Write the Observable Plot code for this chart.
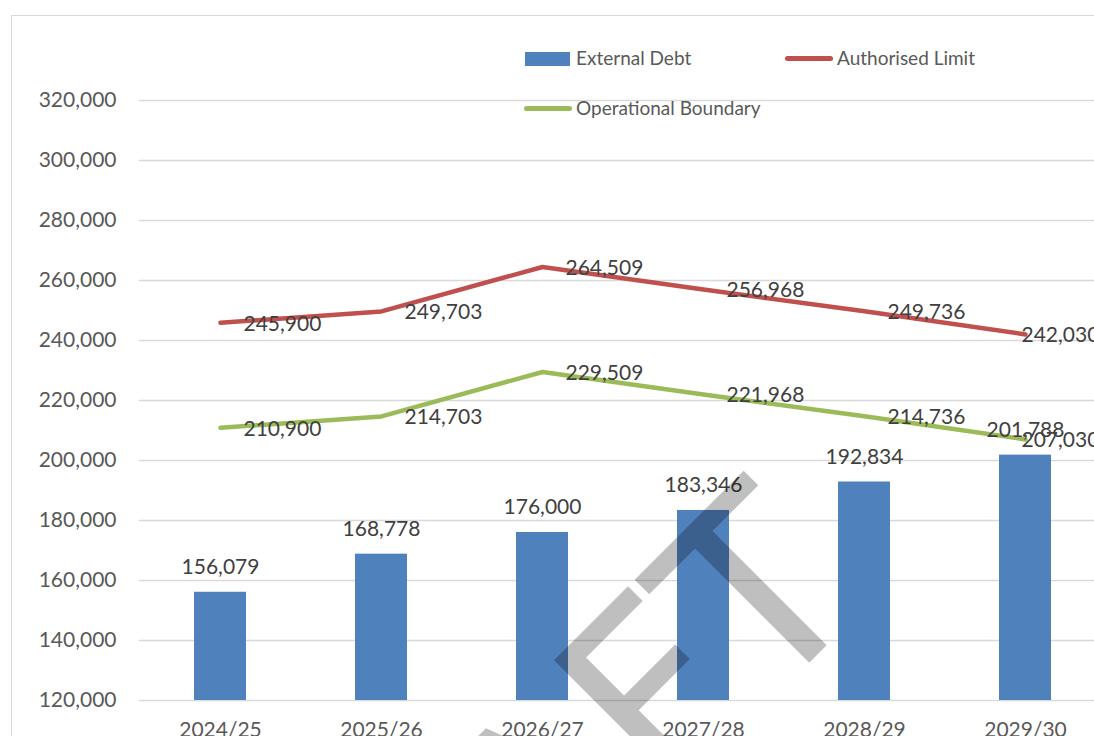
<!DOCTYPE html>
<html>
<head>
<meta charset="utf-8">
<script src="https://cdn.jsdelivr.net/npm/d3@7"></script>
<script src="https://cdn.jsdelivr.net/npm/@observablehq/plot@0.6"></script>
<style>
  html, body { margin: 0; padding: 0; background: #fff; }
  #wrap { position: relative; width: 1094px; height: 736px; overflow: hidden; font-family: Lato, "Open Sans", sans-serif; }
  #border { position: absolute; left: 11px; top: 15px; width: 1200px; height: 900px; border: 1.5px solid #d9d9d9; box-sizing: border-box; }
  #chart { position: absolute; left: 0; top: 0; width: 1110px; }
  #chart svg { max-width: none !important; }
  .lg { position: absolute; font-size: 19px; color: #595959; line-height: 24px; white-space: nowrap; }
  .sw { position: absolute; }
  #wm { position: absolute; left: 0; top: 0; pointer-events: none; }
</style>
</head>
<body>
<div id="wrap">
  <div id="border"></div>
  <div id="chart"></div>
  <div class="sw" style="left:525px;top:52px;width:45px;height:14px;background:#4F81BD"></div>
  <div class="lg" style="left:576px;top:46px">External Debt</div>
  <div class="sw" style="left:785px;top:56px;width:48px;height:5px;border-radius:3px;background:#C0504D"></div>
  <div class="lg" style="left:837px;top:46px">Authorised Limit</div>
  <div class="sw" style="left:524px;top:106px;width:48px;height:5px;border-radius:3px;background:#9BBB59"></div>
  <div class="lg" style="left:576px;top:96px">Operational Boundary</div>
  <svg id="wm" width="1094" height="736">
    <text transform="translate(872,600) rotate(-45)" text-anchor="end" font-family="DejaVu Sans" font-size="250" fill="#000" fill-opacity="0.25">DRAFT</text>
  </svg>
</div>
<script>
const years = ["2024/25", "2025/26", "2026/27", "2027/28", "2028/29", "2029/30"];
const externalDebt = [156079, 168778, 176000, 183346, 192834, 201788];
const authorisedLimit = [245900, 249703, 264509, 256968, 249736, 242030];
const operationalBoundary = [210900, 214703, 229509, 221968, 214736, 207030];
const yTicks = [120000, 140000, 160000, 180000, 200000, 220000, 240000, 260000, 280000, 300000, 320000];

const debt = years.map((year, i) => ({year, value: externalDebt[i]}));
const lines = [
  ...years.map((year, i) => ({year, value: authorisedLimit[i], series: "Authorised Limit", last: i === years.length - 1})),
  ...years.map((year, i) => ({year, value: operationalBoundary[i], series: "Operational Boundary", last: i === years.length - 1}))
];
const fmt = d3.format(",");
const font = "Lato, 'Open Sans', sans-serif";

const chart = Plot.plot({
  width: 1110,
  height: 736,
  marginTop: 100,
  marginBottom: 36,
  marginLeft: 139,
  marginRight: 5,
  style: {fontFamily: font, fontSize: "21px", background: "transparent", overflow: "visible", maxWidth: "none"},
  x: {domain: years, paddingInner: 0.68, paddingOuter: 0.34, label: null},
  y: {domain: [120000, 320000], label: null},
  color: {domain: ["Authorised Limit", "Operational Boundary"], range: ["#C0504D", "#9BBB59"]},
  marks: [
    Plot.gridY(yTicks, {stroke: "#d9d9d9", strokeOpacity: 1, strokeWidth: 1.5}),
    Plot.axisY(yTicks, {tickSize: 0, tickPadding: 23, tickFormat: fmt, fill: "#595959", fontSize: 21, label: null}),
    Plot.axisX({tickSize: 0, tickPadding: 22, fill: "#595959", fontSize: 21, label: null}),
    Plot.barY(debt, {x: "year", y1: 120000, y2: "value", fill: "#4F81BD"}),
    Plot.line(lines, {x: "year", y: "value", z: "series", stroke: "series", strokeWidth: 4.5, strokeLinecap: "round", strokeLinejoin: "round"}),
    Plot.text(debt, {x: "year", y: "value", text: d => fmt(d.value), dy: -25, fill: "#404040", fontSize: 21}),
    Plot.text(lines.filter(d => !d.last), {x: "year", y: "value", text: d => fmt(d.value), textAnchor: "start", dx: 23, dy: 1, fill: "#404040", fontSize: 21}),
    Plot.text(lines.filter(d => d.last), {x: "year", y: "value", text: d => fmt(d.value), textAnchor: "start", dx: -4, dy: 1, fill: "#404040", fontSize: 21})
  ]
});
document.getElementById("chart").appendChild(chart);
</script>
</body>
</html>
